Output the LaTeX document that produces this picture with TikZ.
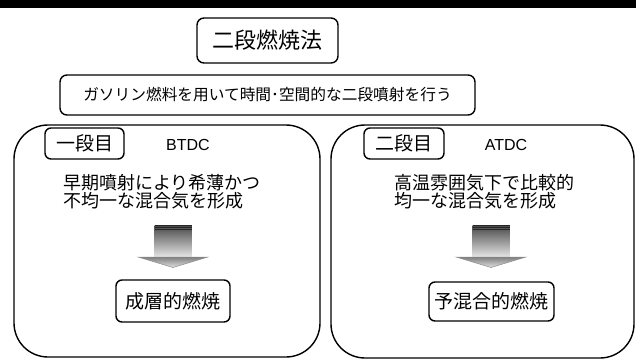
\documentclass[tikz,border=0pt]{standalone}
\usepackage{fontspec}
\setmainfont{Liberation Sans}
\newfontfamily\jp{Noto Sans CJK JP}
\begin{document}
\begin{tikzpicture}[x=1pt,y=-1pt,
  box/.style={draw, line width=1.4pt, rounded corners=7pt, inner sep=0pt},
  bigbox/.style={draw, line width=1.4pt, rounded corners=34pt, inner sep=0pt},
  tagbox/.style={draw, line width=1.4pt, rounded corners=6pt, inner sep=0pt, font=\jp\fontsize{19}{20}\selectfont},
  body/.style={font=\jp\fontsize{18}{18}\selectfont, align=left, anchor=west, inner sep=0pt},
  latin/.style={font=\fontsize{16}{18}\selectfont, inner sep=0pt}]
\useasboundingbox (0,0) rectangle (636,361);
\fill (0,0) rectangle (636,8);
\node[box, minimum width=141pt, minimum height=45pt, font=\jp\fontsize{22}{26}\selectfont] (title) at (267.5,40.5) {二段燃焼法};
\node[box, minimum width=415pt, minimum height=40pt, font=\jp\fontsize{15.7}{18}\selectfont] (sub) at (267.5,95) {ガソリン燃料を用いて時間･空間的な二段噴射を行う};
% left panel
\node[bigbox, minimum width=306pt, minimum height=232pt] (lp) at (167,241) {};
\node[tagbox, minimum width=79pt, minimum height=31pt] (l1) at (84.5,143.5) {一段目};
\node[latin] (btdc) at (188,145) {BTDC};
\node[body] (ltext) at (63,191.5) {早期噴射により希薄かつ\\不均一な混合気を形成};
\node[tagbox, minimum width=114pt, minimum height=42pt] (lres) at (173,301) {成層的燃焼};
% right panel
\node[bigbox, minimum width=303pt, minimum height=233pt] (rp) at (482.5,241.5) {};
\node[tagbox, minimum width=80pt, minimum height=31pt] (r1) at (404,143.5) {二段目};
\node[latin] (atdc) at (506,145) {ATDC};
\node[body] (rtext) at (394,191.5) {高温雰囲気下で比較的\\均一な混合気を形成};
\node[tagbox, minimum width=125pt, minimum height=39pt] (rres) at (491.5,301.5) {予混合的燃焼};
% block arrows
\foreach \cx in {173,491}{
  \shade[top color=black!72, bottom color=black!10] (\cx-18.5,225) rectangle (\cx+18.5,257);
  \foreach \yy in {225.5,227.5,229.5}
    \draw[black!85, line width=0.6pt] (\cx-18.5,\yy) -- (\cx+18.5,\yy);
  \shade[top color=black!50, bottom color=black!12, draw=black!45, line width=0.5pt]
    (\cx-35,257) -- (\cx+35,257) -- (\cx,267.5) -- cycle;
}
\end{tikzpicture}
\end{document}
